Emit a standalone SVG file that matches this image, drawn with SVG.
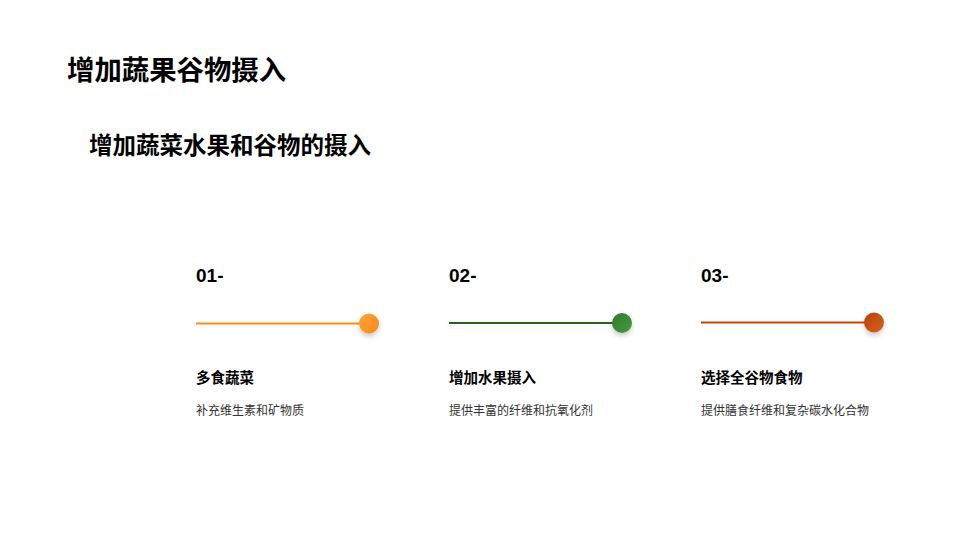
<svg xmlns="http://www.w3.org/2000/svg" width="960" height="548" viewBox="0 0 960 548">
<defs>
<style>
text{font-family:"Liberation Sans","Noto Sans CJK SC",sans-serif;fill:#000}
.h1{font-size:27.4px;font-weight:bold}
.h2{font-size:23.5px;font-weight:bold}
.num{font-size:19px;font-weight:bold}
.t{font-size:14.5px;font-weight:bold}
.d{font-size:12px;fill:#333}
</style>
<linearGradient id="g1" x1="0" y1="0" x2="1" y2="1"><stop offset="0" stop-color="#ffa53a"/><stop offset="1" stop-color="#f6891a"/></linearGradient>
<linearGradient id="g2" x1="0" y1="0" x2="1" y2="1"><stop offset="0" stop-color="#2f7a2b"/><stop offset="1" stop-color="#4a9a40"/></linearGradient>
<linearGradient id="g3" x1="0" y1="0" x2="1" y2="1"><stop offset="0" stop-color="#b8430a"/><stop offset="1" stop-color="#d8621c"/></linearGradient>
<filter id="sh" x="-60%" y="-60%" width="220%" height="240%"><feDropShadow dx="0" dy="3" stdDeviation="2.5" flood-color="#000" flood-opacity="0.2"/></filter>
</defs>
<rect width="960" height="548" fill="#fff"/>
<g id="title"><text class="h1" x="67" y="80">增加蔬果谷物摄入</text></g>
<g id="subtitle"><text class="h2" x="89" y="154">增加蔬菜水果和谷物的摄入</text></g>
<g id="connectors">
<line x1="196" y1="323.5" x2="362" y2="323.5" stroke="#f7901e" stroke-width="2"/>
<line x1="449" y1="323" x2="615" y2="323" stroke="#2e5e22" stroke-width="2"/>
<line x1="701" y1="322.5" x2="867" y2="322.5" stroke="#c2470c" stroke-width="2"/>
</g>
<g id="step1">
<text class="num" x="196" y="282">01-</text>
<circle cx="369" cy="323.5" r="10" fill="url(#g1)" filter="url(#sh)"/>
<text class="t" x="196" y="383">多食蔬菜</text>
<text class="d" x="196" y="415">补充维生素和矿物质</text>
</g>
<g id="step2">
<text class="num" x="449" y="282">02-</text>
<circle cx="622" cy="323" r="10" fill="url(#g2)" filter="url(#sh)"/>
<text class="t" x="449" y="383">增加水果摄入</text>
<text class="d" x="449" y="415">提供丰富的纤维和抗氧化剂</text>
</g>
<g id="step3">
<text class="num" x="701" y="282">03-</text>
<circle cx="874" cy="322.5" r="10" fill="url(#g3)" filter="url(#sh)"/>
<text class="t" x="701" y="383">选择全谷物食物</text>
<text class="d" x="701" y="415">提供膳食纤维和复杂碳水化合物</text>
</g>
</svg>
